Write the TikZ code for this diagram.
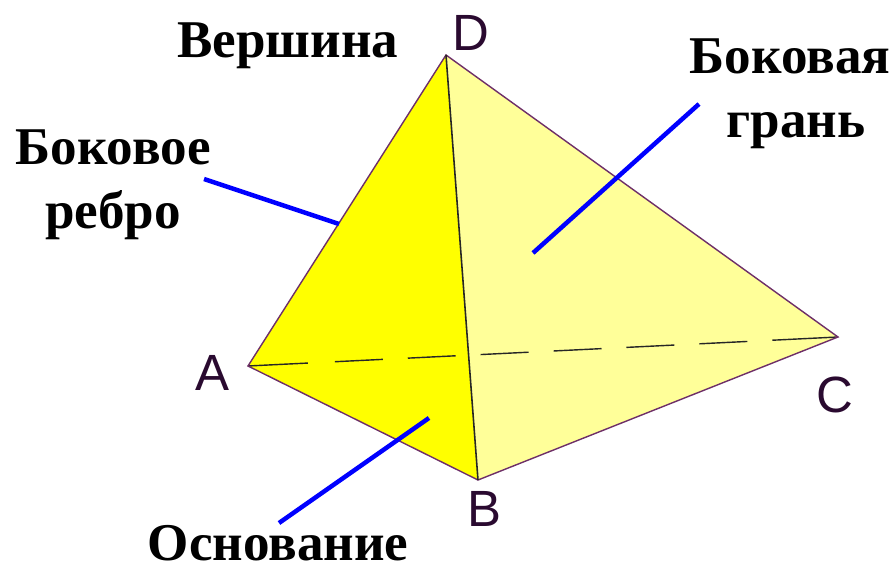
\documentclass[tikz,border=0pt]{standalone}
\usepackage{xcolor}
\usepackage{fontspec}
\setmainfont{Liberation Serif}
\newfontfamily\vertexfont{Liberation Sans}
\definecolor{edgepurple}{HTML}{6E2F68}
\definecolor{vertexink}{HTML}{2A0A30}
\definecolor{palefaceyellow}{HTML}{FFFF99}
\definecolor{darkfaceyellow}{HTML}{FFFF00}
\definecolor{leaderblue}{HTML}{0000FF}

\begin{document}
\begin{tikzpicture}[
    x=0.02cm, y=-0.02cm,
    face/.style={draw=none},
    edge/.style={draw=edgepurple, line width=0.8pt},
    inneredge/.style={draw=black!85, line width=0.9pt},
    hiddenedge/.style={draw=black!85, line width=0.8pt,
        dash pattern=on 1.2cm off 0.54cm on 0.96cm off 0.5cm on 0.96cm off 0.5cm on 0.96cm off 0.5cm
        on 0.96cm off 0.5cm on 0.96cm off 0.5cm on 0.96cm off 0.5cm on 1.4cm off 1cm},
    leader/.style={draw=leaderblue, line width=0.09cm},
    term/.style={font=\fontsize{30.2}{34}\selectfont\bfseries, text=black, inner sep=0pt, anchor=base},
    vertexname/.style={font=\vertexfont\fontsize{29}{32}\selectfont, text=vertexink, inner sep=0pt, anchor=base}
]

\useasboundingbox (0,0) rectangle (896,570);

% =========================================================
% Vertices
% =========================================================
\coordinate (A) at (248,366);
\coordinate (B) at (478,480);
\coordinate (C) at (838,337);
\coordinate (D) at (446,55);

% Faces
\fill[palefaceyellow, face] (D) -- (B) -- (C) -- cycle;
\fill[darkfaceyellow, face] (A) -- (B) -- (D) -- cycle;

% Edges
\draw[hiddenedge] (A) -- (C);
\draw[edge] (D) -- (A) -- (B) -- (C) -- cycle;
\draw[inneredge] (D) -- (B);

% =========================================================
% Vertex names
% =========================================================
\node[vertexname] (nameA) at (212,391) {A};
\node[vertexname] (nameB) at (484,527) {B};
\node[vertexname] (nameC) at (835,413) {C};
\node[vertexname] (nameD) at (471,51) {D};

% =========================================================
% Terms
% =========================================================
\node[term] (apex) at (288,58) {Вершина};
\node[term] (rib1) at (113,165) {Боковое};
\node[term] (rib2) at (113,229) {ребро};
\node[term] (side1) at (790,74) {Боковая};
\node[term] (side2) at (796,138) {грань};
\node[term] (base) at (278,561) {Основание};

% Leaders
\coordinate (ribstart) at (204,179);
\coordinate (ribend) at (339,224);
\coordinate (sidestart) at (699,104);
\coordinate (sideend) at (533,253);
\coordinate (basestart) at (279,523);
\coordinate (baseend) at (429,418);

\draw[leader] (ribstart) -- (ribend);
\draw[leader] (sidestart) -- (sideend);
\draw[leader] (basestart) -- (baseend);

\end{tikzpicture}
\end{document}
